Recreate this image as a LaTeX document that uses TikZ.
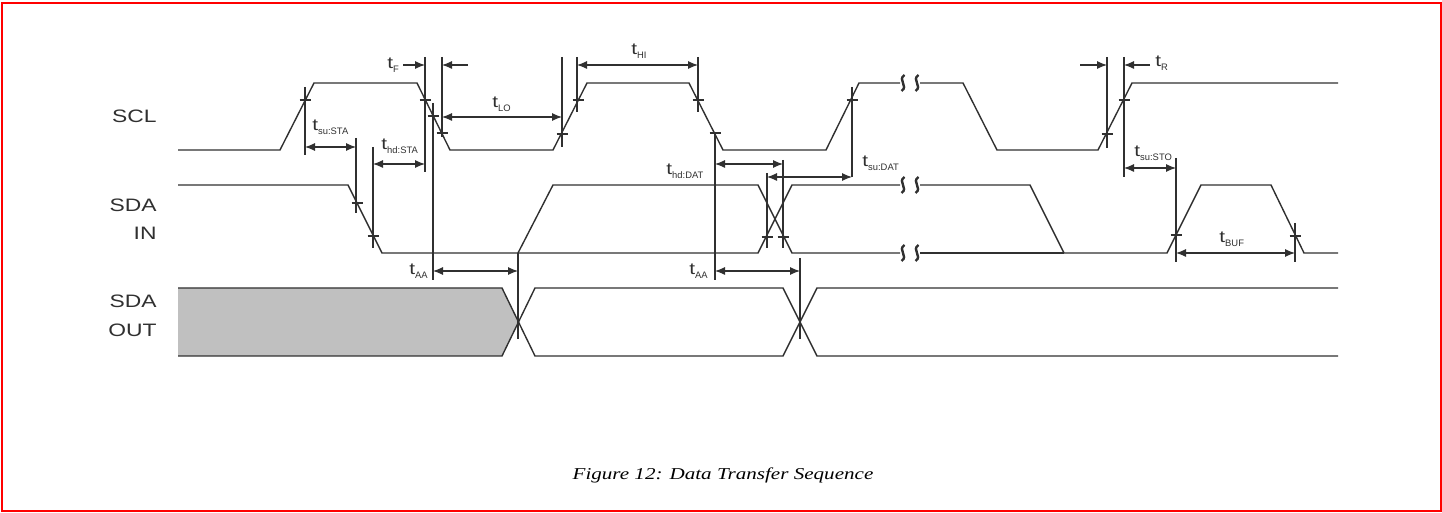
\documentclass[tikz,border=0pt]{standalone}
\usepackage{fontspec}
\setmainfont{Liberation Serif}
\newfontfamily\arialf{Liberation Sans}
\usetikzlibrary{arrows.meta}
\definecolor{ln}{HTML}{303030}
\definecolor{gfill}{HTML}{C0C0C0}
\newcommand\hs[1]{\scalebox{1.27}[1]{#1}}
\newcommand\tlab[1]{{\arialf\fontsize{8.2}{9}\selectfont\hs{t}\raisebox{-1.6pt}{\fontsize{4.7}{5}\selectfont #1}}}
\begin{document}
\begin{tikzpicture}[x=0.5pt,y=-0.5pt,
  sig/.style={ln, line width=0.7pt, line join=miter},
  dim/.style={ln, line width=0.55pt},
  dar/.style={dim, {Latex[length=5pt,width=4pt]}-{Latex[length=5pt,width=4pt]}},
  sar/.style={dim, -{Latex[length=5pt,width=4pt]}},
  brk/.style={ln, line width=1.2pt},
  tks/.style={ln, line width=0.55pt},
  lbl/.style={inner sep=0pt, text=ln},
  sigl/.style={inner sep=0pt, text=ln, align=right, anchor=east}]
\useasboundingbox (0,0) rectangle (1442,513);
\draw[red, line width=1pt] (2,3.5) rectangle (1441,511.5);

% ---- signal names
\node[sigl] (nscl) at (157,116) {\hs{\arialf\fontsize{9}{10}\selectfont SCL}};
\node[sigl] (nsdain1) at (157,205) {\hs{\arialf\fontsize{9}{10}\selectfont SDA}};
\node[sigl] (nsdain2) at (157,233) {\hs{\arialf\fontsize{9}{10}\selectfont IN}};
\node[sigl] (nsdaout1) at (157,301) {\hs{\arialf\fontsize{9}{10}\selectfont SDA}};
\node[sigl] (nsdaout2) at (157,330) {\hs{\arialf\fontsize{9}{10}\selectfont OUT}};

% ---- SCL
\draw[sig] (178,150) -- (280,150) -- (314,83) -- (417,83) -- (450,150) -- (553,150) -- (587,83) -- (689,83) -- (723,150) -- (826,150) -- (859,83) -- (900,83);
\draw[sig] (920,83) -- (963,83) -- (997,150) -- (1098,150) -- (1132,83) -- (1338,83);

% ---- SDA IN
\draw[sig] (178,185) -- (348,185) -- (382,253) -- (758,253) -- (792,185) -- (900,185);
\draw[sig] (518,253) -- (553,185) -- (758,185) -- (792,253) -- (900,253);
\draw[sig] (920,185) -- (1030,185) -- (1064,253) -- (1167,253) -- (1201,185) -- (1271,185) -- (1304,253) -- (1338,253);
\draw[sig] (920,253) -- (1064,253);

% ---- SDA OUT
\fill[gfill] (178,288) -- (502,288) -- (518.5,322) -- (502,356) -- (178,356) -- cycle;
\draw[sig] (178,288) -- (502,288) -- (535,356) -- (783,356) -- (817,288) -- (1338,288);
\draw[sig] (178,356) -- (502,356) -- (535,288) -- (783,288) -- (817,356) -- (1338,356);

% ---- breaks
\foreach \bx in {903,917} {
  \foreach \by in {83,185,253} {
    \draw[brk] (\bx+1.5,\by-8) .. controls (\bx-6,\by-3) and (\bx+6,\by+3) .. (\bx-1.5,\by+8);
  }
}

% ---- tick marks
\foreach \tx/\ty in {305/100, 425/100, 433/116, 442/133, 562/134, 578/100, 698/100, 715/133, 852/100, 1107/134, 1124/100,
                     357/203, 373/236, 767/237, 783/237, 1176/235, 1295/236} {
  \draw[tks] (\tx-5.5,\ty) -- (\tx+5.5,\ty);
}

% ---- vertical reference lines
\coordinate (v1a) at (305,87);   \coordinate (v1b) at (305,155);
\coordinate (v2a) at (356,138);  \coordinate (v2b) at (356,213);
\coordinate (v3a) at (373,147);  \coordinate (v3b) at (373,248);
\coordinate (v4a) at (425,57);   \coordinate (v4b) at (425,172);
\coordinate (v5a) at (433,103);  \coordinate (v5b) at (433,280);
\coordinate (v6a) at (442,57);   \coordinate (v6b) at (442,137);
\coordinate (v7a) at (562,57);   \coordinate (v7b) at (562,147);
\coordinate (v8a) at (577,57);   \coordinate (v8b) at (577,112);
\coordinate (v9a) at (698,57);   \coordinate (v9b) at (698,112);
\coordinate (v10a) at (715,134); \coordinate (v10b) at (715,280);
\coordinate (v11a) at (767,173); \coordinate (v11b) at (767,248);
\coordinate (v12a) at (783,160); \coordinate (v12b) at (783,248);
\coordinate (v13a) at (852,87);  \coordinate (v13b) at (852,177);
\coordinate (v14a) at (518,253); \coordinate (v14b) at (518,339);
\coordinate (v15a) at (800,258); \coordinate (v15b) at (800,339);
\coordinate (v16a) at (1107,57); \coordinate (v16b) at (1107,148);
\coordinate (v17a) at (1124,57); \coordinate (v17b) at (1124,177);
\coordinate (v18a) at (1176,158);\coordinate (v18b) at (1176,262);
\coordinate (v19a) at (1295,223);\coordinate (v19b) at (1295,262);
\foreach \i in {1,...,19} { \draw[dim] (v\i a) -- (v\i b); }

% ---- dimension arrows
\draw[dar] (305,147) -- (356,147);
\draw[dar] (373,164) -- (425,164);
\coordinate (tfa) at (403,65); \coordinate (tfb) at (425,65);
\draw[sar] (tfa) -- (tfb);
\coordinate (tfc) at (468,65); \coordinate (tfd) at (442,65);
\draw[sar] (tfc) -- (tfd);
\draw[dar] (442,117) -- (562,117);
\draw[dar] (577,65) -- (698,65);
\draw[dar] (715,164) -- (783,164);
\draw[dar] (767,177) -- (852,177);
\draw[dar] (433,271) -- (518,271);
\draw[dar] (715,271) -- (800,271);
\coordinate (tra) at (1080,65); \coordinate (trb) at (1107,65);
\draw[sar] (tra) -- (trb);
\coordinate (trc) at (1150,65); \coordinate (trd) at (1124,65);
\draw[sar] (trc) -- (trd);
\draw[dar] (1124,168) -- (1176,168);
\draw[dar] (1176,253) -- (1295,253);

% ---- timing labels
\node[lbl, anchor=base west] (ltf) at (387,69) {\tlab{F}};
\node[lbl, anchor=base west] (lsusta) at (312,131) {\tlab{su:STA}};
\node[lbl, anchor=base west] (lhdsta) at (381,150) {\tlab{hd:STA}};
\node[lbl, anchor=base west] (llo) at (492,108) {\tlab{LO}};
\node[lbl, anchor=base west] (lhi) at (631,55) {\tlab{HI}};
\node[lbl, anchor=base west] (lhddat) at (666,175) {\tlab{hd:DAT}};
\node[lbl, anchor=base west] (lsudat) at (862,167) {\tlab{su:DAT}};
\node[lbl, anchor=base west] (ltr) at (1155,67) {\tlab{R}};
\node[lbl, anchor=base west] (lsusto) at (1134,157) {\tlab{su:STO}};
\node[lbl, anchor=base west] (lbuf) at (1219,243) {\tlab{BUF}};
\node[lbl, anchor=base west] (laa1) at (409,275) {\tlab{AA}};
\node[lbl, anchor=base west] (laa2) at (689,275) {\tlab{AA}};

% ---- caption
\node[inner sep=0pt] (cap) at (723,475) {\hs{\itshape\fontsize{8.3}{10}\selectfont Figure 12: Data Transfer Sequence}};
\end{tikzpicture}
\end{document}
